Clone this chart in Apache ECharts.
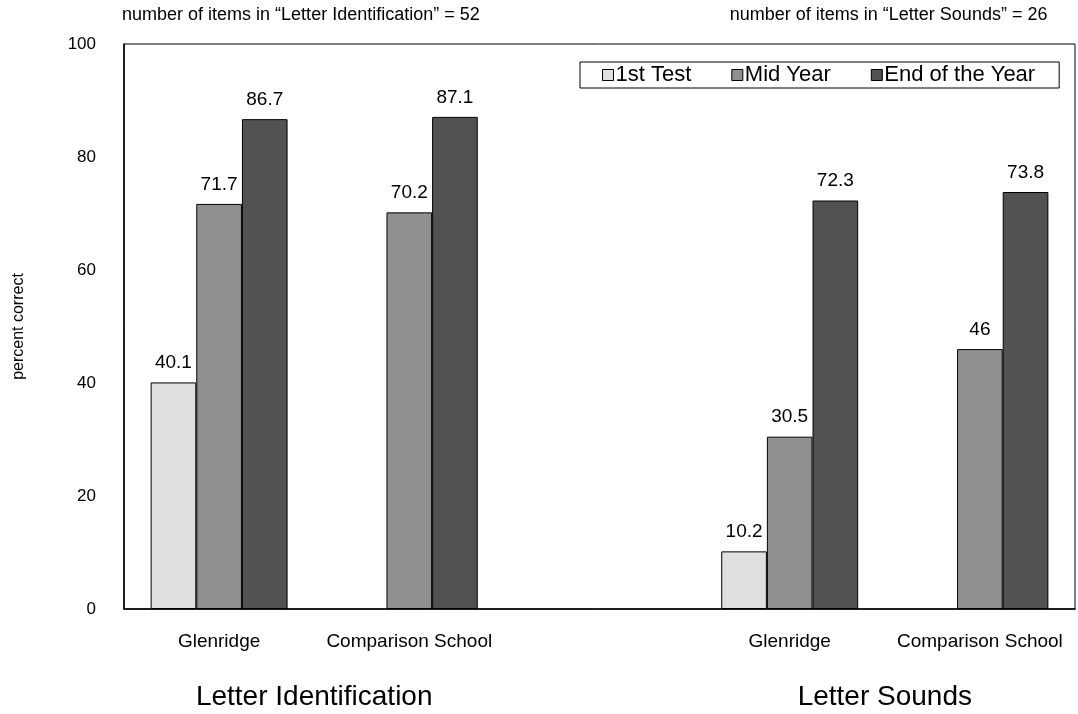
<!DOCTYPE html>
<html>
<head>
<meta charset="utf-8">
<script src="https://cdn.jsdelivr.net/npm/echarts@6/dist/echarts.min.js"></script>
<style>
html,body{margin:0;padding:0;background:#fff;}
#chart{width:1078px;height:714px;}
</style>
</head>
<body>
<div id="chart"></div>
<script>
const categories = ["Glenridge", "Comparison School", "", "Glenridge", "Comparison School"];
const seriesNames = ["1st Test", "Mid Year", "End of the Year"];
const firstTest = [40.1, null, null, 10.2, null];
const midYear = [71.7, 70.2, null, 30.5, 46];
const endYear = [86.7, 87.1, null, 72.3, 73.8];
const groupLabels = ["Letter Identification", "Letter Sounds"];
const noteLabels = ["number of items in \u201cLetter Identification\u201d = 52", "number of items in \u201cLetter Sounds\u201d = 26"];
const yTicks = [0, 20, 40, 60, 80, 100];

// layout constants (positions on a 0..5 helper axis spanning the plot)
const groupPos = [1, 4];
const notePos = [0.93, 4.02];

const FONT = "'Liberation Sans', Arial, sans-serif";
const colors = ["#e0e0e0", "#909090", "#525252"];
const values = [firstTest, midYear, endYear];

const chart = echarts.init(document.getElementById('chart'), null, {renderer: 'canvas'});

function barSeries(i) {
  return {
    name: seriesNames[i],
    type: 'bar',
    xAxisIndex: 0,
    yAxisIndex: 0,
    data: values[i],
    barGap: '0%',
    barCategoryGap: '28%',
    itemStyle: {color: colors[i], borderColor: '#000', borderWidth: 1},
    label: {show: true, position: 'top', distance: 10, color: '#000', fontSize: 19, fontFamily: FONT},
    emphasis: {disabled: true},
    animation: false
  };
}

chart.setOption({
  animation: false,
  textStyle: {fontFamily: FONT},
  color: colors,
  grid: {left: 124, right: 3, top: 44, bottom: 105, show: true, borderColor: '#000', borderWidth: 1, backgroundColor: 'transparent'},
  legend: {
    data: seriesNames.map(n => ({name: n, icon: 'rect'})),
    left: 580, top: 62,
    orient: 'horizontal',
    borderColor: '#000', borderWidth: 1,
    padding: [2, 24, 2, 22],
    itemWidth: 11, itemHeight: 11, itemGap: 40,
    textStyle: {fontSize: 22, color: '#000', fontFamily: FONT, padding: [0, 0, 0, -3]},
    itemStyle: {borderColor: '#000', borderWidth: 1}
  },
  xAxis: [
    {
      type: 'category', data: categories, position: 'bottom',
      axisLine: {show: true, lineStyle: {color: '#000', width: 1.5}},
      axisTick: {show: false},
      axisLabel: {color: '#000', fontSize: 19, margin: 23, fontFamily: FONT, interval: 0},
      splitLine: {show: false}
    },
    {
      type: 'value', min: 0, max: 5, position: 'bottom',
      axisLine: {show: false}, axisTick: {show: false}, splitLine: {show: false},
      axisLabel: {
        show: true, customValues: groupPos, margin: 74, color: '#000', fontSize: 28, fontFamily: FONT,
        formatter: v => groupLabels[groupPos.indexOf(v)] || ''
      }
    },
    {
      type: 'value', min: 0, max: 5, position: 'top',
      axisLine: {show: false}, axisTick: {show: false}, splitLine: {show: false},
      axisLabel: {
        show: true, customValues: notePos, margin: 20, color: '#000', fontSize: 18, fontFamily: FONT,
        formatter: v => noteLabels[notePos.indexOf(v)] || ''
      }
    }
  ],
  yAxis: {
    type: 'value', min: 0, max: 100, interval: 20,
    axisLine: {show: true, lineStyle: {color: '#000', width: 1.5}},
    axisTick: {show: false},
    splitLine: {show: false},
    axisLabel: {color: '#000', fontSize: 17, margin: 28, fontFamily: FONT, customValues: yTicks},
    name: 'percent correct', nameLocation: 'middle', nameGap: 97, nameRotate: 90,
    nameTextStyle: {color: '#000', fontSize: 16, fontFamily: FONT}
  },
  series: [barSeries(0), barSeries(1), barSeries(2)]
});
</script>
</body>
</html>
